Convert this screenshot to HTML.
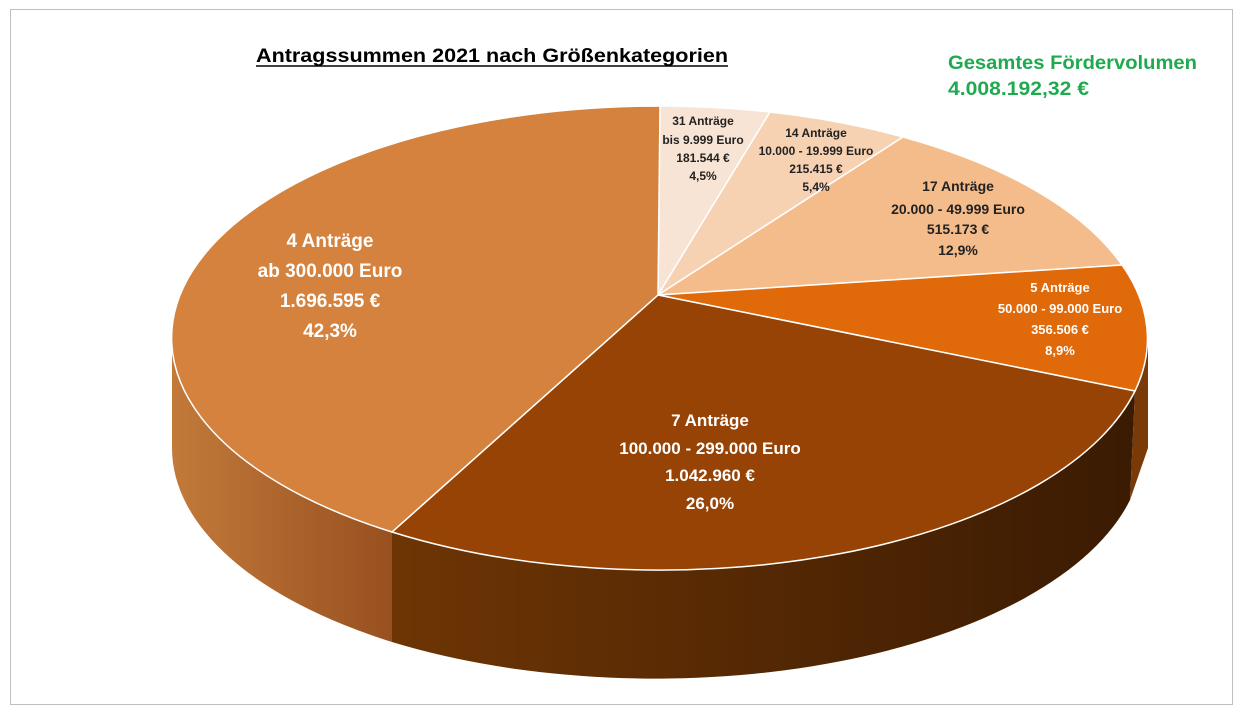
<!DOCTYPE html>
<html><head><meta charset="utf-8"><style>
html,body{margin:0;padding:0;background:#fff;}
svg{display:block;font-family:"Liberation Sans",sans-serif;font-weight:bold;}
</style></head><body>
<svg width="1245" height="715" viewBox="0 0 1245 715">
<defs>
<linearGradient id="gl" x1="0" x2="1" y1="0" y2="0">
<stop offset="0" stop-color="#c27a3a"/><stop offset="1" stop-color="#985020"/></linearGradient>
<linearGradient id="gb" x1="0" x2="1" y1="0" y2="0">
<stop offset="0" stop-color="#6e3504"/><stop offset="1" stop-color="#3a1b03"/></linearGradient>
</defs>
<rect x="10.5" y="9.5" width="1222" height="695" fill="#fff" stroke="#bfbfbf"/>
<path d="M172 338 A488 232 0 0 0 392 532 L392 642 A488 232 0 0 1 172 448 Z" fill="url(#gl)"/>
<path d="M392 532 A488 232 0 0 0 1135 391 L1130 500 A488 232 0 0 1 392 642 Z" fill="url(#gb)"/>
<path d="M1135 391 A488 232 0 0 0 1148 338 L1148 448 L1130 500 Z" fill="#7a3a08"/>
<g stroke="#fff" stroke-width="1.5">
<path d="M658 295 L660 106 A488 232 0 0 1 770 112 Z" fill="#f8e4d4"/>
<path d="M658 295 L770 112 A488 232 0 0 1 903 137 Z" fill="#f6d1b2"/>
<path d="M658 295 L903 137 A488 232 0 0 1 1122 265 Z" fill="#f4bc8b"/>
<path d="M658 295 L1122 265 A488 232 0 0 1 1135 391 Z" fill="#e0690a"/>
<path d="M658 295 L1135 391 A488 232 0 0 1 392 532 Z" fill="#964305"/>
<path d="M658 295 L392 532 A488 232 0 0 1 660 106 Z" fill="#d4823d"/>
</g>
<text x="256" y="62" font-size="19" textLength="472" lengthAdjust="spacingAndGlyphs" fill="#000">Antragssummen 2021 nach Größenkategorien</text>
<line x1="256" y1="66" x2="728" y2="66" stroke="#000" stroke-width="1.5"/>
<text x="948" y="69" font-size="19" textLength="249" lengthAdjust="spacingAndGlyphs" fill="#1faa4f">Gesamtes Fördervolumen</text>
<text x="948" y="95" font-size="19" textLength="141" lengthAdjust="spacingAndGlyphs" fill="#1faa4f">4.008.192,32 €</text>
<g font-size="12" fill="#222" text-anchor="middle">
<text x="703" y="125">31 Anträge</text><text x="703" y="144">bis 9.999 Euro</text>
<text x="703" y="162">181.544 €</text><text x="703" y="180">4,5%</text>
<text x="816" y="137">14 Anträge</text><text x="816" y="155">10.000 - 19.999 Euro</text>
<text x="816" y="173">215.415 €</text><text x="816" y="191">5,4%</text>
</g>
<g font-size="14" fill="#222" text-anchor="middle">
<text x="958" y="191">17 Anträge</text><text x="958" y="214">20.000 - 49.999 Euro</text>
<text x="958" y="234">515.173 €</text><text x="958" y="255">12,9%</text>
</g>
<g font-size="13" fill="#fff" text-anchor="middle">
<text x="1060" y="292">5 Anträge</text><text x="1060" y="313">50.000 - 99.000 Euro</text>
<text x="1060" y="334">356.506 €</text><text x="1060" y="355">8,9%</text>
</g>
<g font-size="17" fill="#fff" text-anchor="middle">
<text x="710" y="426">7 Anträge</text><text x="710" y="454">100.000  - 299.000 Euro</text>
<text x="710" y="481">1.042.960 €</text><text x="710" y="509">26,0%</text>
</g>
<g font-size="19" fill="#fff" text-anchor="middle">
<text x="330" y="247">4 Anträge</text><text x="330" y="277">ab 300.000 Euro</text>
<text x="330" y="307">1.696.595 €</text><text x="330" y="337">42,3%</text>
</g>
</svg>
</body></html>
